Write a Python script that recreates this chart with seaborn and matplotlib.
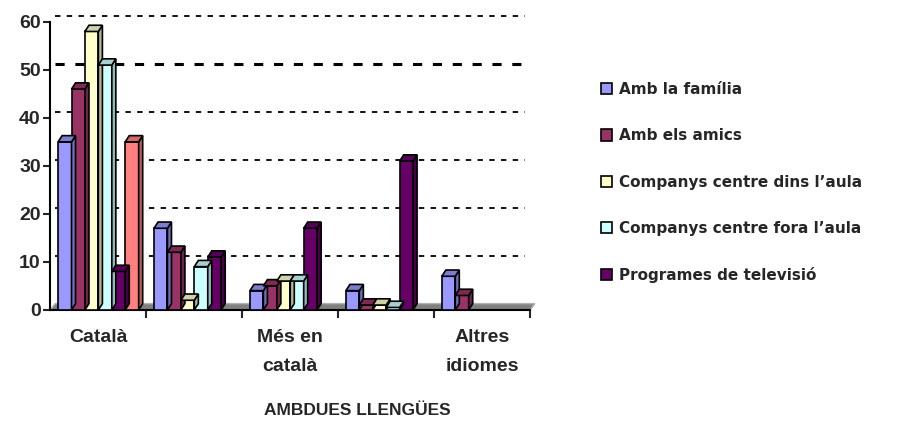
import pandas as pd
import seaborn as sns
import matplotlib.pyplot as plt
from matplotlib.patches import Polygon
from matplotlib.colors import to_rgb

# dades
grups = ["Català", "Grup 2", "Més en català", "Grup 4", "Altres idiomes"]
etiquetes = ["Català", "", "Més en\ncatalà", "", "Altres\nidiomes"]
series = ["Amb la família", "Amb els amics", "Companys centre dins l\u2019aula",
          "Companys centre fora l\u2019aula", "Programes de televisió", "Altres"]
familia = [35, 17, 4, 4, 7]
amics = [46, 12, 5, 1, 3]
dins_aula = [58, 2, 6, 1, 0]
fora_aula = [51, 9, 6, 0.5, 0]
televisio = [8, 11, 17, 31, 0]
altres = [35, 0, 0, 0, 0]
colors = ["#9999FF", "#993366", "#FFFFCC", "#CCFFFF", "#660066", "#FF8080"]

valors = [familia, amics, dins_aula, fora_aula, televisio, altres]
files = []
for s, vals in zip(series, valors):
    for g, v in zip(grups, vals):
        files.append({"grup": g, "serie": s, "valor": v})
df = pd.DataFrame(files)

sns.set_style("white")
plt.rcParams["font.family"] = ["Liberation Sans", "DejaVu Sans"]

fig = plt.figure(figsize=(9, 4.21), dpi=100)
ax = fig.add_axes([0.056, 0.264, 0.533, 0.684])

sns.barplot(data=df, x="grup", y="valor", hue="serie", palette=colors,
            width=0.84, edgecolor="black", linewidth=1.2, saturation=1,
            legend=False, ax=ax, zorder=3)
barres = list(ax.patches)

ax.set_xlim(-0.5, 4.5)
ax.set_ylim(0, 60)

# efecte 3D a partir de les barres dibuixades
dy = 1.3
for p in barres:
    x0, y0 = p.get_x(), p.get_y()
    w, h = p.get_width(), p.get_height()
    if h <= 0:
        p.set_visible(False)
        continue
    dx = w * 0.3
    fc = to_rgb(p.get_facecolor())
    side = tuple(c * 0.72 for c in fc)
    top = tuple(c * 0.82 for c in fc)
    ax.add_patch(Polygon([(x0 + w, y0), (x0 + w + dx, y0 + dy),
                          (x0 + w + dx, y0 + h + dy), (x0 + w, y0 + h)],
                         closed=True, facecolor=side, edgecolor="black",
                         linewidth=1.2, zorder=3))
    ax.add_patch(Polygon([(x0, y0 + h), (x0 + dx, y0 + h + dy),
                          (x0 + w + dx, y0 + h + dy), (x0 + w, y0 + h)],
                         closed=True, facecolor=top, edgecolor="black",
                         linewidth=1.2, zorder=3))

# terra gris i graella de fons
ax.add_patch(Polygon([(-0.5, 0), (4.5, 0), (4.55, dy), (-0.45, dy)],
                     closed=True, facecolor="#808080", edgecolor="#b0b0b0",
                     linewidth=1.0, zorder=2, clip_on=False))
for y in range(10, 61, 10):
    ax.hlines(y + dy, -0.45, 4.45, color="black", linestyles=(0, (3, 3.5)),
              linewidth=2.2 if y == 50 else 1.3, zorder=0, clip_on=False)

for s in ["top", "right"]:
    ax.spines[s].set_visible(False)
ax.spines["left"].set_linewidth(1.5)
ax.spines["bottom"].set_linewidth(1.5)
ax.spines["left"].set_color("black")
ax.spines["bottom"].set_color("black")

ax.set_yticks(range(0, 61, 10))
ax.tick_params(axis="y", labelsize=14, length=5, width=1.5, direction="out",
               left=True, pad=2)
for t in ax.get_yticklabels():
    t.set_fontweight("bold")

ax.set_xticks([0.5, 1.5, 2.5, 3.5, 4.5])
ax.set_xticklabels([])
ax.tick_params(axis="x", length=6, width=1.5, direction="out", bottom=True)
ax.set_xticks(range(len(grups)), minor=True)
ax.set_xticklabels(etiquetes, minor=True, fontsize=14, fontweight="bold",
                   linespacing=1.9)
ax.tick_params(axis="x", which="minor", length=0, pad=14)

ax.set_xlabel("AMBDUES LLENGÜES", fontsize=12.5, fontweight="bold")
ax.xaxis.set_label_coords(0.64, -0.325)
ax.xaxis.label.set_va("top")
ax.set_ylabel("")

handles = [plt.Rectangle((0, 0), 1, 1, facecolor=c, edgecolor="black",
                         linewidth=1.2) for c in colors[:5]]
fig.legend(handles, series[:5], loc="upper left", bbox_to_anchor=(0.652, 0.838),
           frameon=False, prop={"family": "DejaVu Sans", "weight": "bold",
                                "size": 11},
           handlelength=0.75, handleheight=0.75, handletextpad=0.45,
           labelspacing=2.05)

fig.savefig("out.png", dpi=100)
